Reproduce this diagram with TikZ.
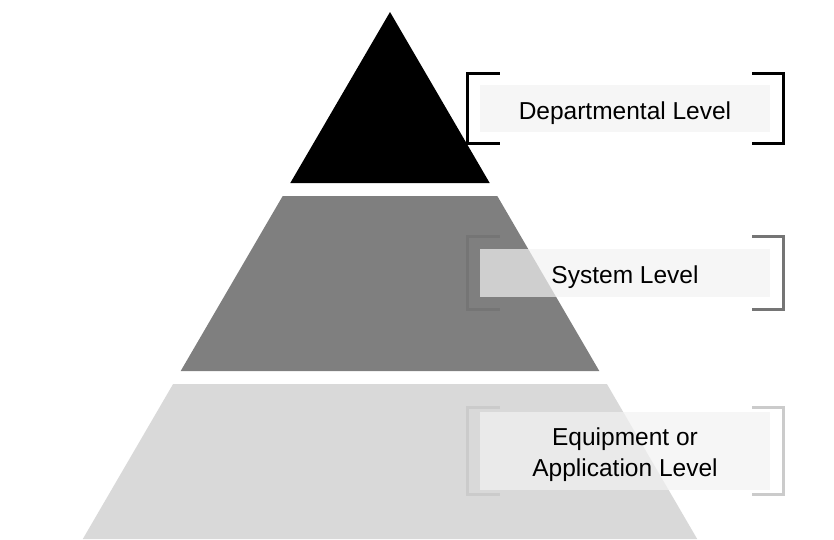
\documentclass[tikz,border=0pt]{standalone}
\usepackage{fontspec}
\setmainfont{Liberation Sans}
\usepackage{xcolor}
\usetikzlibrary{positioning}

\definecolor{midgray}{HTML}{7F7F7F}
\definecolor{palegray}{HTML}{D9D9D9}
\definecolor{boxfill}{HTML}{F2F2F2}
\definecolor{midline}{HTML}{757575}
\definecolor{paleline}{HTML}{CBCBCB}

\begin{document}
\begin{tikzpicture}[
    x=1pt, y=-1pt,
    every node/.style={align=center, font=\fontsize{24.5}{31}\selectfont},
    levelbox/.style={fill=boxfill, fill opacity=0.7, text opacity=1,
        minimum width=290pt, inner sep=0pt, text height=26pt, text depth=5pt},
    bracket/.style={line width=2.7pt}
]
\useasboundingbox (0,0) rectangle (834,539);

% pyramid bands
\fill[black] (390,12) -- (489.7,183) -- (290.3,183) -- cycle;
\fill[midgray] (282.7,196) -- (497.3,196) -- (599.3,371) -- (180.7,371) -- cycle;
\fill[palegray] (173.1,384) -- (606.9,384) -- (697.2,539) -- (82.8,539) -- cycle;

% level labels
\node[levelbox, minimum height=47pt] (dept) at (625,108.5) {Departmental Level};
\node[levelbox, minimum height=48pt, text height=25pt] (sys) at (625,273) {System Level};
\node[levelbox, minimum height=78pt, text height=55pt] (equip) at (625,451) {Equipment or\\Application Level};

% brackets around the labels
\foreach \lvl/\gap/\col in {dept/11/black, sys/12/midline, equip/4/paleline} {
    \draw[bracket, \col]
        ([xshift=20pt, yshift=\gap pt]\lvl.north west) -- ([xshift=-12pt, yshift=\gap pt]\lvl.north west)
        -- ([xshift=-12pt, yshift=-\gap pt]\lvl.south west) -- ([xshift=20pt, yshift=-\gap pt]\lvl.south west);
    \draw[bracket, \col]
        ([xshift=-18pt, yshift=\gap pt]\lvl.north east) -- ([xshift=13pt, yshift=\gap pt]\lvl.north east)
        -- ([xshift=13pt, yshift=-\gap pt]\lvl.south east) -- ([xshift=-18pt, yshift=-\gap pt]\lvl.south east);
}
\end{tikzpicture}
\end{document}
